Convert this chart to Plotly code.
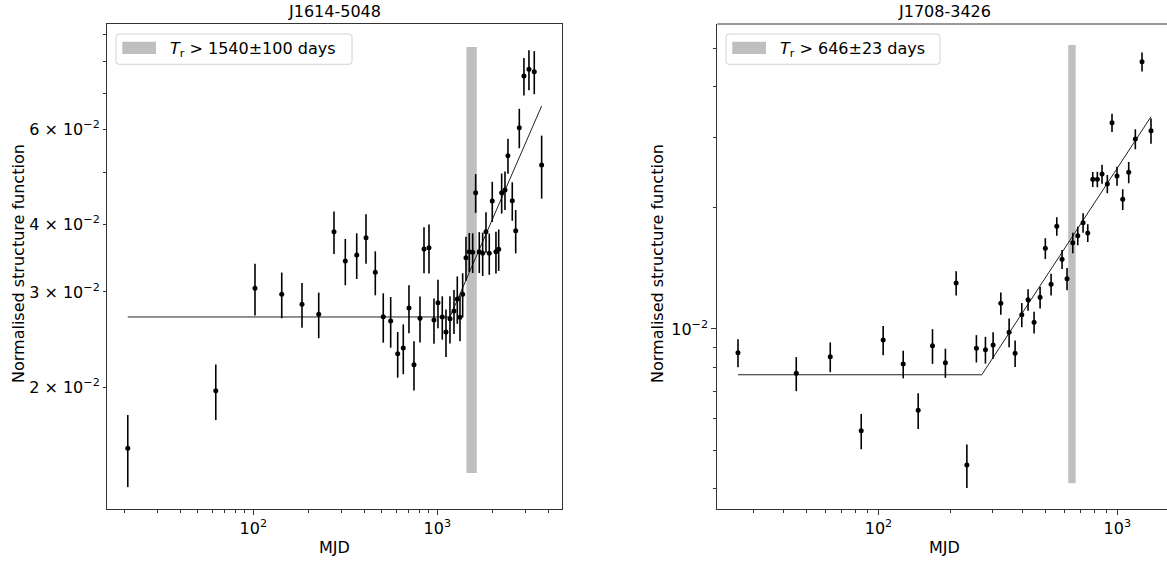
import plotly.graph_objects as go

W, H = 1167, 563
FONT = "DejaVu Sans"
FS = 16

# ---------------- J1614-5048 ----------------
lag_a = [20.77, 62.5, 102.1, 142.7, 183.9, 226.7, 274.5, 316.2, 364.8, 409.8,
         460.3, 508.6, 558.0, 609.3, 653.4, 701.6, 747.0, 805.4, 846.8, 901.4,
         959.6, 1008.8, 1064.6, 1115.0, 1172.0, 1232.6, 1284.6, 1328.7, 1374.0, 1432.2,
         1492.5, 1557.5, 1617.0, 1691.6, 1765.0, 1839.6, 1917.2, 1990.0, 2084.5, 2157.0,
         2238.7, 2333.5, 2422.6, 2557.0, 2668.5, 2791.6, 2959.0, 3150.0, 3367.0, 3693.0]
sf_a = [0.01540, 0.01969, 0.03047, 0.02970, 0.02846, 0.02727, 0.03878, 0.03423, 0.03511, 0.03780,
        0.03262, 0.02699, 0.02650, 0.02305, 0.02362, 0.02801, 0.02200, 0.02681, 0.03602, 0.03622,
        0.02661, 0.02865, 0.02696, 0.02529, 0.02676, 0.02766, 0.02911, 0.02692, 0.02970, 0.03471,
        0.03561, 0.03552, 0.04580, 0.03561, 0.03537, 0.03878, 0.03537, 0.04420, 0.03561, 0.03598,
        0.04580, 0.04633, 0.05363, 0.04426, 0.03895, 0.06043, 0.07533, 0.07751, 0.07673, 0.05154]
err_a = [0.00235, 0.00232, 0.00335, 0.00288, 0.00270, 0.00264, 0.00350, 0.00337, 0.00341, 0.00397,
         0.00305, 0.00283, 0.00285, 0.00224, 0.00250, 0.00285, 0.00230, 0.00262, 0.00352, 0.00376,
         0.00255, 0.00295, 0.00248, 0.00255, 0.00268, 0.00260, 0.00293, 0.00260, 0.00278, 0.00326,
         0.00296, 0.00300, 0.00377, 0.00310, 0.00326, 0.00334, 0.00310, 0.00378, 0.00317, 0.00317,
         0.00390, 0.00378, 0.00400, 0.00362, 0.00359, 0.00507, 0.00603, 0.00660, 0.00702, 0.00688]
fit_x_a = [20.77, 1172.0, 3693.0]
fit_y_a = [0.02696, 0.02696, 0.0663]
tr_a, tr_err_a = 1540, 100

# ---------------- J1708-3426 ----------------
lag_b = [25.8, 45.25, 62.8, 84.66, 104.6, 126.9, 146.6, 168.3, 190.6, 211.4,
         234.4, 257.0, 280.4, 301.9, 325.2, 352.3, 373.3, 398.1, 423.0, 448.1,
         474.9, 499.5, 528.0, 557.8, 587.0, 615.8, 650.9, 682.9, 718.8, 752.0,
         789.0, 824.8, 863.0, 908.2, 950.0, 997.0, 1053.4, 1116.0, 1189.6, 1268.8, 1383.6]
sf_b = [0.00873, 0.007759, 0.008533, 0.005585, 0.009389, 0.008184, 0.006277, 0.009088, 0.008245, 0.013015,
        0.004589, 0.008954, 0.008882, 0.009124, 0.011586, 0.009813, 0.008701, 0.010853, 0.011827, 0.010391,
        0.011991, 0.015876, 0.012918, 0.018009, 0.014907, 0.013339, 0.016394, 0.017064, 0.018384, 0.017330,
        0.023572, 0.023572, 0.024298, 0.022946, 0.032598, 0.024023, 0.021021, 0.024537, 0.029693, 0.046233, 0.031138]
err_b = [0.00070, 0.000755, 0.000725, 0.000563, 0.00078, 0.000645, 0.00064, 0.00090, 0.000686, 0.000895,
         0.000568, 0.00070, 0.00068, 0.00069, 0.00074, 0.00080, 0.00066, 0.00075, 0.000724, 0.00064,
         0.00075, 0.00095, 0.00080, 0.00095, 0.00081, 0.00085, 0.00097, 0.00090, 0.00102, 0.00088,
         0.00101, 0.00105, 0.00133, 0.00120, 0.00171, 0.00130, 0.00125, 0.00148, 0.00170, 0.00251, 0.00223]
fit_x_b = [25.8, 270.7, 1383.6]
fit_y_b = [0.007694, 0.007694, 0.03374]
tr_b, tr_err_b = 646, 23

# tick positions / labels
x_major = [100, 1000]
x_major_text = ["10<sup>2</sup>", "10<sup>3</sup>"]
x_minor = [20, 30, 40, 50, 60, 70, 80, 90, 200, 300, 400, 500, 600, 700, 800, 900,
           2000, 3000, 4000]
ya_vals = [0.02, 0.03, 0.04, 0.06]
ya_text = ["2 × 10<sup>−2</sup>", "3 × 10<sup>−2</sup>", "4 × 10<sup>−2</sup>",
           "6 × 10<sup>−2</sup>"]
ya_minor = [0.05, 0.07, 0.08, 0.09]
yb_major = [0.01]
yb_major_text = ["10<sup>−2</sup>"]
yb_minor = [0.004, 0.005, 0.006, 0.007, 0.008, 0.009, 0.02, 0.03, 0.04, 0.05]

BAND = "rgb(191,191,191)"
SPINE = "#333333"


def px(x):
    return x / W


def py(y):
    return 1 - y / H


fig = go.Figure()


def add_panel(xa, ya, lag, sf, err, fx, fy, tr, tr_err):
    lo = min(sf) * 0.9
    hi = max(sf) * 1.1
    x0, x1 = tr - tr_err, tr + tr_err
    fig.add_trace(go.Scatter(
        x=[x0, x1, x1, x0, x0], y=[lo, lo, hi, hi, lo], mode="lines",
        fill="toself", fillcolor=BAND, line=dict(width=0),
        hoverinfo="skip", showlegend=False, xaxis=xa, yaxis=ya))
    fig.add_trace(go.Scatter(
        x=fx, y=fy, mode="lines", line=dict(color="#222222", width=1),
        showlegend=False, xaxis=xa, yaxis=ya))
    fig.add_trace(go.Scatter(
        x=lag, y=sf, mode="markers",
        marker=dict(color="black", size=5),
        error_y=dict(type="data", array=err, color="black", thickness=1.6, width=0),
        showlegend=False, xaxis=xa, yaxis=ya))


add_panel("x", "y", lag_a, sf_a, err_a, fit_x_a, fit_y_a, tr_a, tr_err_a)
add_panel("x2", "y2", lag_b, sf_b, err_b, fit_x_b, fit_y_b, tr_b, tr_err_b)

axis_common = dict(type="log", showgrid=False, zeroline=False, showline=True,
                   linecolor=SPINE, linewidth=1, ticks="outside",
                   tickcolor=SPINE, tickwidth=1,
                   tickfont=dict(family=FONT, size=FS, color="black"))
minor_x = dict(tickvals=x_minor, ticklen=3, ticks="outside", tickcolor=SPINE)

fig.update_layout(
    width=W, height=H, margin=dict(l=0, r=0, t=0, b=0),
    paper_bgcolor="white", plot_bgcolor="white", showlegend=False,
    xaxis=dict(**axis_common, domain=[px(107), px(562)], range=[1.2045, 3.678],
               mirror=True, anchor="y", tickvals=x_major, ticktext=x_major_text, ticklen=5,
               minor=minor_x),
    yaxis=dict(**axis_common, domain=[py(509), py(24)], range=[-1.92489, -1.02675],
               mirror=True, anchor="x", tickvals=ya_vals, ticktext=ya_text, ticklen=3,
               minor=dict(tickvals=ya_minor, ticklen=3, ticks="outside", tickcolor=SPINE)),
    xaxis2=dict(**axis_common, domain=[px(717.3), 1.0], range=[1.325, 3.208],
                anchor="y2", tickvals=x_major, ticktext=x_major_text, ticklen=5,
                minor=minor_x),
    yaxis2=dict(**axis_common, domain=[py(509), py(24)], range=[-2.4478, -1.2413],
                anchor="x2", tickvals=yb_major, ticktext=yb_major_text, ticklen=5,
                minor=dict(tickvals=yb_minor, ticklen=3, ticks="outside", tickcolor=SPINE)),
)

# top spine of the right panel
fig.add_shape(type="line", xref="x2 domain", yref="y2 domain", x0=0, x1=1, y0=1, y1=1,
              line=dict(color=SPINE, width=1))


def legend_box(left, right, top, bottom, patch_l, patch_r, patch_t, patch_b, text_x, label):
    r = 3
    path = (f"M {px(left + r)},{py(top)} L {px(right - r)},{py(top)} "
            f"Q {px(right)},{py(top)} {px(right)},{py(top + r)} "
            f"L {px(right)},{py(bottom - r)} Q {px(right)},{py(bottom)} {px(right - r)},{py(bottom)} "
            f"L {px(left + r)},{py(bottom)} Q {px(left)},{py(bottom)} {px(left)},{py(bottom - r)} "
            f"L {px(left)},{py(top + r)} Q {px(left)},{py(top)} {px(left + r)},{py(top)} Z")
    fig.add_shape(type="path", xref="paper", yref="paper", path=path,
                  fillcolor="rgba(255,255,255,0.8)", line=dict(color="rgb(210,210,210)", width=1))
    fig.add_shape(type="rect", xref="paper", yref="paper",
                  x0=px(patch_l), x1=px(patch_r), y0=py(patch_b), y1=py(patch_t),
                  fillcolor=BAND, line=dict(width=0))
    fig.add_annotation(x=px(text_x), y=py((top + bottom) / 2), xref="paper", yref="paper",
                       text=label, showarrow=False, xanchor="left", yanchor="middle",
                       font=dict(family=FONT, size=FS, color="black"))


legend_box(116, 352, 34, 64.3, 122.3, 156, 41.7, 54, 168,
           f"<i>T</i><sub>r</sub> > {tr_a}±{tr_err_a} days")
legend_box(726, 940, 34, 64.3, 732.3, 766, 41.7, 54, 778,
           f"<i>T</i><sub>r</sub> > {tr_b}±{tr_err_b} days")

# titles and axis labels
for cx, title in [(334.5, "J1614-5048"), (944.5, "J1708-3426")]:
    fig.add_annotation(x=px(cx), y=py(11), xref="paper", yref="paper", text=title,
                       showarrow=False, xanchor="center", yanchor="middle",
                       font=dict(family=FONT, size=FS, color="black"))
for cx in [334.5, 944.5]:
    fig.add_annotation(x=px(cx), y=py(547), xref="paper", yref="paper", text="MJD",
                       showarrow=False, xanchor="center", yanchor="middle",
                       font=dict(family=FONT, size=FS, color="black"))
for cx in [18, 657]:
    fig.add_annotation(x=px(cx), y=py(264), xref="paper", yref="paper",
                       text="Normalised structure function", textangle=-90,
                       showarrow=False, xanchor="center", yanchor="middle",
                       font=dict(family=FONT, size=FS, color="black"))

fig.write_html("out.html")
